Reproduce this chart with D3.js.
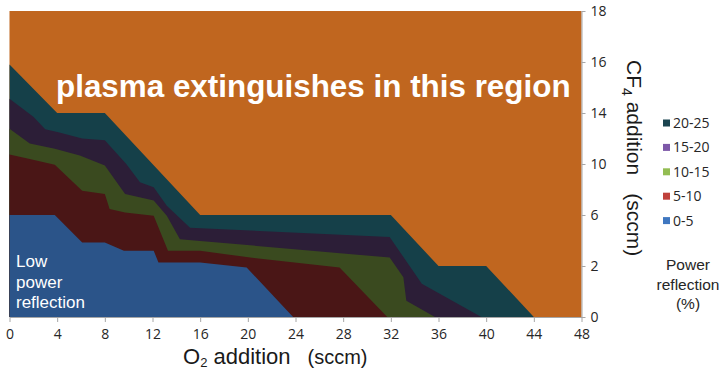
<!DOCTYPE html>
<html>
<head>
<meta charset="utf-8">
<script src="https://cdn.jsdelivr.net/npm/d3@7/dist/d3.min.js"></script>
<style>
  body { margin: 0; background: #ffffff; }
  svg { display: block; }
</style>
</head>
<body>
<svg id="chart" width="726" height="368"></svg>
<script>
// O2 flow grid (sccm) and CF4 flow grid (sccm)
const o2Ticks = [0, 4, 8, 12, 16, 20, 24, 28, 32, 36, 40, 44, 48];
const cf4Levels = [0, 2, 6, 10, 14, 16, 18];

// Power-reflection bands, low to high
const bandLabels = ["0-5", "5-10", "10-15", "15-20", "20-25"];

// Upper edge of each band as [O2, CF4] points: where reflection reaches 5, 10, 15, 20, 25 %
const edge5 = [[0, 6], [3.8, 6], [6.1, 3.85], [8, 3.85], [9.6, 3.2], [12.1, 3.2], [12.5, 2.27],
  [16, 2.27], [19.9, 1.94], [23.8, 0]];
const edge10 = [[0, 10.75], [1.7, 10.4], [3.8, 9.95], [6.1, 7.9], [8, 7.65], [8.4, 6.47], [9.7, 6.2],
  [12.1, 5.95], [13.3, 3.2], [16, 3.2], [20.2, 2.66], [27.7, 1.94], [31.7, 0]];
const edge15 = [[0, 12.77], [1.7, 11.6], [3.8, 11.2], [5.9, 10.67], [8, 9.88], [9.7, 7.65],
  [12.1, 7.13], [13.2, 5.94], [14.3, 4.1], [16, 3.97], [31.9, 2.66], [33.05, 1.56],
  [33.3, 0.64], [35.7, 0]];
const edge20 = [[0, 14.56], [2, 13.7], [3, 12.72], [4.1, 12.5], [6.1, 12], [8, 11.86], [9.8, 10],
  [10.95, 8.57], [12.1, 8.17], [13.2, 6.73], [15.15, 5], [31.9, 4.28], [34.6, 1.3], [39.6, 0]];
const edge25 = [[0, 15.9], [4, 14], [8, 14], [16, 6], [32, 6], [36, 2], [40, 2], [44, 0]];

const bandEdges = [edge5, edge10, edge15, edge20, edge25];
const bandFill = ["#2b5489", "#4a1616", "#3a4a1f", "#2c1e37", "#154049"];
const bandSwatch = ["#3f77c0", "#c0413c", "#93bd52", "#7d58a8", "#1b4450"];
const extinctFill = "#c0661f";

const svg = d3.select("#chart");
const plotLeft = 9.5, plotRight = 581.5, plotTop = 11, plotBottom = 317;

const x = d3.scaleLinear().domain([0, 48]).range([plotLeft, plotRight]);
// CF4 levels sit at equal spacing along the axis
const y = d3.scaleLinear()
  .domain(cf4Levels)
  .range(cf4Levels.map((d, i) => plotBottom - i * (plotBottom - plotTop) / (cf4Levels.length - 1)));

// region where the plasma extinguishes (above the 25 % edge)
svg.append("rect")
  .attr("x", plotLeft).attr("y", plotTop)
  .attr("width", plotRight - plotLeft).attr("height", plotBottom - plotTop)
  .attr("fill", extinctFill);

const area = d3.area()
  .x(d => x(d[0]))
  .y0(y(0))
  .y1(d => y(d[1]));

// stack the bands from the highest edge down so lower bands sit on top
for (let i = bandEdges.length - 1; i >= 0; i--) {
  svg.append("path")
    .datum(bandEdges[i])
    .attr("d", area)
    .attr("fill", bandFill[i]);
}

// axes
const axisColor = "#a6a6a6";
const tickFont = "'Open Sans', 'Liberation Sans', sans-serif";

const xAxis = svg.append("g")
  .attr("transform", `translate(0,${plotBottom})`)
  .call(d3.axisBottom(x).tickValues(o2Ticks).tickSize(5).tickSizeOuter(0).tickPadding(7));
xAxis.select(".domain").attr("stroke", axisColor);
xAxis.selectAll(".tick line").attr("stroke", axisColor);
xAxis.selectAll(".tick text")
  .attr("fill", "#262626")
  .style("font-family", tickFont)
  .style("font-size", "14px");

const yAxis = svg.append("g")
  .attr("transform", `translate(${plotRight},0)`)
  .call(d3.axisRight(y).tickValues(cf4Levels).tickSize(4).tickSizeOuter(0).tickPadding(5));
yAxis.select(".domain").attr("stroke", axisColor);
yAxis.selectAll(".tick line").attr("stroke", axisColor);
yAxis.selectAll(".tick text")
  .attr("fill", "#262626")
  .style("font-family", tickFont)
  .style("font-size", "14px");

const sans = "'Liberation Sans', Arial, sans-serif";

// in-plot annotations
svg.append("text")
  .attr("x", 56).attr("y", 96.5)
  .attr("fill", "#ffffff")
  .style("font-family", sans)
  .style("font-weight", "bold")
  .style("font-size", "31.4px")
  .text("plasma extinguishes in this region");

const lowLines = ["Low", "power", "reflection"];
svg.append("g").selectAll("text")
  .data(lowLines)
  .join("text")
  .attr("x", 16)
  .attr("y", (d, i) => 267 + i * 20.5)
  .attr("fill", "#ffffff")
  .style("font-family", sans)
  .style("font-size", "17px")
  .text(d => d);

// x-axis title
const xTitle = svg.append("text")
  .attr("x", 183).attr("y", 363.5)
  .attr("fill", "#1a1a1a")
  .style("font-family", sans)
  .style("font-size", "22px");
xTitle.append("tspan").text("O");
xTitle.append("tspan").attr("dy", 3).style("font-size", "13px").text("2");
xTitle.append("tspan").attr("dy", -3).text(" addition");
xTitle.append("tspan").attr("dx", 17).style("font-size", "20px").text("(sccm)");

// y-axis title, reading downward
const yTitle = svg.append("text")
  .attr("transform", "translate(627,60) rotate(90)")
  .attr("fill", "#1a1a1a")
  .style("font-family", sans)
  .style("font-size", "21px");
yTitle.append("tspan").text("CF");
yTitle.append("tspan").attr("dy", 5).style("font-size", "14px").text("4");
yTitle.append("tspan").attr("dy", -5).text(" addition");
yTitle.append("tspan").attr("dx", 18).style("font-size", "21px").text("(sccm)");

// legend, highest band first
const legendRows = d3.range(bandLabels.length).reverse();
const legend = svg.append("g");
legendRows.forEach((bi, r) => {
  const cy = 123 + r * 24.4;
  legend.append("rect")
    .attr("x", 663).attr("y", cy - 3.5)
    .attr("width", 7).attr("height", 7)
    .attr("fill", bandSwatch[bi]);
  legend.append("text")
    .attr("x", 673).attr("y", cy)
    .attr("dy", "0.35em")
    .attr("fill", "#262626")
    .style("font-family", tickFont)
    .style("font-size", "14px")
    .text(bandLabels[bi]);
});

const legendTitle = ["Power", "reflection", "(%)"];
svg.append("g").selectAll("text")
  .data(legendTitle)
  .join("text")
  .attr("x", 688)
  .attr("y", (d, i) => 270 + i * 19.5)
  .attr("text-anchor", "middle")
  .attr("fill", "#262626")
  .style("font-family", sans)
  .style("font-size", "15.5px")
  .text(d => d);
</script>
</body>
</html>
